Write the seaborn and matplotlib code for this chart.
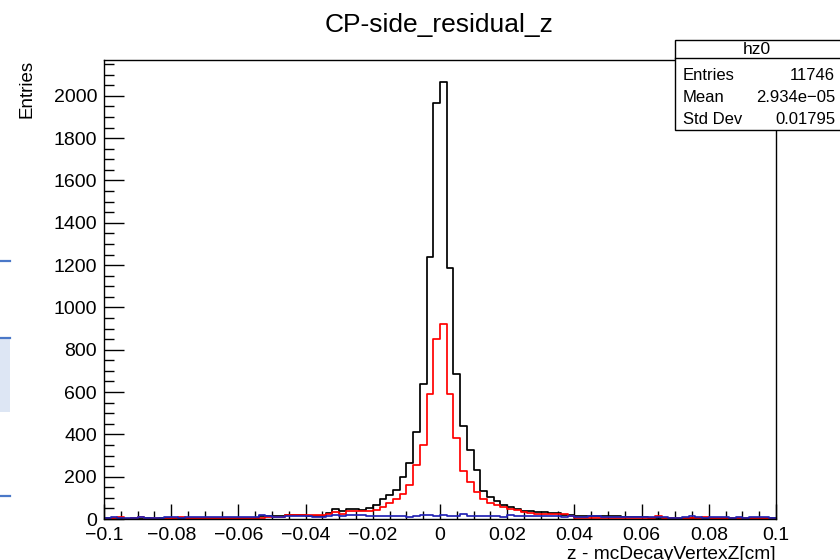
import numpy as np
import matplotlib
matplotlib.use('Agg')
import matplotlib.pyplot as plt
import seaborn as sns
from matplotlib.patches import Rectangle
from matplotlib.lines import Line2D
from matplotlib.ticker import MultipleLocator

# 100 bins over [-0.1, 0.1], counts
bin_edges = np.linspace(-0.1, 0.1, 101)

black_counts = [
    3, 2, 4, 2, 3, 2, 3, 2, 4, 3, 2, 3,
    5, 4, 5, 6, 5, 4, 6, 5, 5, 6, 7,
    14, 14, 14, 13,
    17, 18, 17, 16,
    12, 13,
    30, 46, 36, 46, 46, 44, 50,
    66, 95, 113, 137, 197, 266, 412, 637, 1237, 1966, 2066, 1185, 687, 440, 325, 231, 134, 105, 86, 66, 58, 46, 36,
    36, 33, 33, 30, 30, 20, 17,
    14, 14, 13, 14, 15, 14, 14,
    9, 9, 10, 9,
    5, 4, 6, 5, 4, 5, 3, 4, 5, 4, 3, 5, 4, 3, 4, 3, 4, 3, 3,
]
red_counts = [
    2, 3, 9, 2, 3, 9, 2, 3, 2, 2, 3, 8,
    4, 3, 4, 5, 4, 3, 4, 4, 5, 4, 5,
    7, 8, 9, 10,
    20, 21, 20, 20,
    20, 18,
    25, 33, 25, 36, 36, 36, 38,
    44, 58, 74, 93, 118, 160, 255, 349, 593, 852, 920, 590, 384, 227, 176, 128, 94, 75, 68, 57, 49, 42, 32,
    30, 25, 25, 25, 25, 25, 14,
    6, 7, 6, 5, 6, 6, 7,
    5, 6, 5, 5,
    5, 14, 4, 5, 4, 3, 4, 5, 9, 4, 3, 5, 3, 4, 3, 4, 3, 3, 2,
]
blue_counts = [
    5, 9, 6, 6, 7, 8, 6, 6, 5, 9, 8, 6,
    9, 9, 8, 9, 9, 9, 8, 9, 9, 9, 10,
    17, 16, 9, 9,
    14, 13, 14, 13,
    10, 8,
    14, 17, 16, 18, 20, 17, 15,
    13, 12, 12, 13, 12, 10, 12, 17, 18, 12, 17, 15, 12, 25, 12, 14, 12, 14, 12, 10, 17, 15, 13,
    14, 13, 14, 14, 13, 10, 14,
    11, 10, 12, 12, 11, 10, 11,
    10, 9, 9, 10,
    8, 9, 8, 6, 5, 9, 12, 8, 7, 9, 8, 9, 6, 9, 7, 9, 8, 9, 7,
]

xticks = [-0.1, -0.08, -0.06, -0.04, -0.02, 0, 0.02, 0.04, 0.06, 0.08, 0.1]
xtick_labels = ['\u22120.1', '\u22120.08', '\u22120.06', '\u22120.04', '\u22120.02', '0',
                '0.02', '0.04', '0.06', '0.08', '0.1']
yticks = [0, 200, 400, 600, 800, 1000, 1200, 1400, 1600, 1800, 2000]

stats_rows = [('Entries', '11746'), ('Mean', '2.934e\u221205'), ('Std Dev', '0.01795')]

plt.rcParams['font.family'] = ['Liberation Sans', 'DejaVu Sans']

centers = (bin_edges[:-1] + bin_edges[1:]) / 2

W, H = 840, 560
fig = plt.figure(figsize=(8.4, 5.6), dpi=100)
ax = fig.add_axes([104 / W, 1 - 519 / H, 672 / W, 459 / H])

# black, red, blue histograms drawn as outlines
for counts, color in [(black_counts, 'black'), (red_counts, '#ff0000'), (blue_counts, '#2222b4')]:
    sns.histplot(x=list(centers), weights=list(counts), bins=list(bin_edges), element='step',
                 fill=False, color=color, linewidth=1.25, ax=ax)

ax.set_xlim(-0.1, 0.1)
ax.set_ylim(0, max(black_counts) * 1.05)
ax.set_xticks(xticks, labels=xtick_labels)
ax.set_yticks(yticks)
ax.xaxis.set_minor_locator(MultipleLocator(0.005))
ax.yaxis.set_minor_locator(MultipleLocator(50))
ax.tick_params(axis='both', which='both', direction='in', labelsize=14, width=1, color='black')
ax.tick_params(axis='x', which='major', length=10.8, pad=6)
ax.tick_params(axis='x', which='minor', length=5.5)
ax.tick_params(axis='y', which='major', length=14.4, pad=5)
ax.tick_params(axis='y', which='minor', length=7.2)
for s in ax.spines.values():
    s.set_linewidth(1)
    s.set_color('black')

ax.set_xlabel('z - mcDecayVertexZ[cm]', fontsize=13.8, loc='right')
ax.xaxis.set_label_coords(1.0, -0.058)
ax.set_ylabel('Entries', fontsize=13.5, loc='top')
ax.yaxis.set_label_coords(-0.102, 1.0)

fig.text(439 / W, 1 - 32 / H, 'CP-side_residual_z', fontsize=19, ha='center', va='baseline')

# stats box (ROOT style)
fig.add_artist(Rectangle((675 / W, 1 - 130 / H), 170 / W, 90 / H, transform=fig.transFigure,
                         facecolor='white', edgecolor='black', linewidth=1, zorder=5))
fig.add_artist(Line2D([675 / W, 1.0], [1 - 58 / H, 1 - 58 / H], transform=fig.transFigure,
                      color='black', linewidth=1, zorder=6))
fig.text(757 / W, 1 - 49 / H, 'hz0', fontsize=12.5, ha='center', va='center', zorder=7)
for (name, val), yc in zip(stats_rows, [75, 98, 120]):
    fig.text(683 / W, 1 - yc / H, name, fontsize=12, ha='left', va='center', zorder=7)
    fig.text(835 / W, 1 - yc / H, val, fontsize=12, ha='right', va='center', zorder=7)

# bits of another window at the left edge of the screenshot
fig.add_artist(Rectangle((0, 1 - 412 / H), 10 / W, 74 / H, transform=fig.transFigure,
                         facecolor='#dde6f4', edgecolor='none', zorder=1))
for yl in [261, 338, 496]:
    fig.add_artist(Line2D([0, 10 / W], [1 - yl / H, 1 - yl / H], transform=fig.transFigure,
                          color='#4a78c8', linewidth=1.6, zorder=2))

fig.savefig('out.png', dpi=100)
